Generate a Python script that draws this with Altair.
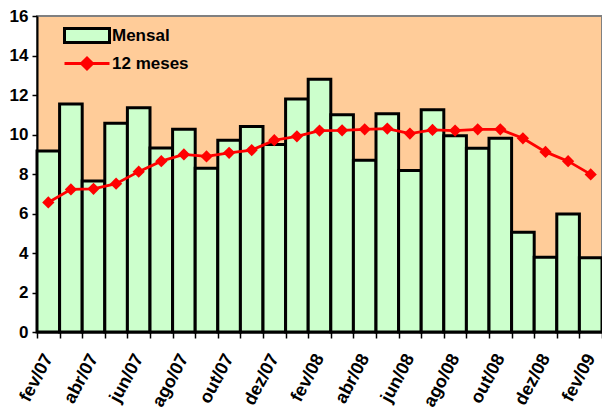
import altair as alt
import pandas as pd

months = ["fev/07", "mar/07", "abr/07", "mai/07", "jun/07", "jul/07", "ago/07", "set/07",
          "out/07", "nov/07", "dez/07", "jan/08", "fev/08", "mar/08", "abr/08", "mai/08",
          "jun/08", "jul/08", "ago/08", "set/08", "out/08", "nov/08", "dez/08", "jan/09", "fev/09"]
mensal = [9.16, 11.55, 7.65, 10.57, 11.35, 9.32, 10.26, 8.29, 9.71, 10.4, 9.49, 11.8, 12.8,
          11.0, 8.69, 11.05, 8.18, 11.25, 9.94, 9.31, 9.81, 5.05, 3.79, 5.97, 3.76]
doze_meses = [6.56, 7.22, 7.25, 7.51, 8.12, 8.65, 8.99, 8.89, 9.07, 9.21, 9.71, 9.91, 10.2,
              10.21, 10.26, 10.3, 10.05, 10.23, 10.2, 10.26, 10.26, 9.81, 9.12, 8.65, 7.98]
y_ticks = [0, 2, 4, 6, 8, 10, 12, 14, 16]
shown_months = ["fev", "abr", "jun", "ago", "out", "dez"]

df = pd.DataFrame({"mes": months, "mensal": mensal, "doze": doze_meses})

FONT = "Liberation Sans"

x_axis = alt.Axis(
    labelAngle=-62, tickBand="extent", labelFont=FONT, labelFontSize=18,
    labelFontWeight="bold", labelColor="black", domainColor="black", domainWidth=2,
    tickColor="black", tickWidth=1.5, tickSize=6, labelPadding=17, labelOverlap=False,
    labelExpr="indexof(" + str(shown_months) + ", slice(datum.label, 0, 3)) >= 0 ? datum.label : ''",
)
x_scale = alt.Scale(paddingInner=0, paddingOuter=0)
y_scale = alt.Scale(domain=[0, 16], nice=False)
y_axis = alt.Axis(
    values=y_ticks, tickCount=9, grid=False, labelFont=FONT, labelFontSize=17, labelFontWeight="bold",
    labelColor="black", domainColor="black", domainWidth=2, tickColor="black",
    tickWidth=1.5, tickSize=5, labelPadding=4, labelOverlap=False, labelFlush=False,
)


def xenc():
    return alt.X("mes:N", sort=months, title=None, scale=x_scale, axis=x_axis)


def yenc(field):
    return alt.Y(field, scale=y_scale, axis=y_axis, title=None)


bars = alt.Chart(df).transform_calculate(serie="'Mensal'").mark_bar(
    stroke="black", strokeWidth=3, fillOpacity=1
).encode(
    x=xenc(),
    y=yenc("mensal:Q"),
    fill=alt.Fill(
        "serie:N", scale=alt.Scale(domain=["Mensal"], range=["#CCFFCC"]),
        legend=alt.Legend(
            orient="none", legendX=26, legendY=-4.5, title=None, padding=0,
            symbolType="M-1,-0.31H1V0.31H-1Z", symbolSize=2025,
            symbolStrokeColor="black", symbolStrokeWidth=3, symbolFillColor="#CCFFCC",
            labelOffset=1,
        ),
    ),
)

line = alt.Chart(df).transform_calculate(serie2="'12 meses'").mark_line(strokeWidth=2.8).encode(
    x=xenc(),
    y=yenc("doze:Q"),
    stroke=alt.Stroke(
        "serie2:N", scale=alt.Scale(domain=["12 meses"], range=["#FF0000"]),
        legend=alt.Legend(
            orient="none", legendX=26, legendY=23.5, title=None, padding=0,
            symbolType="M-1,0H1M-0.25,0L0,-0.25L0.25,0L0,0.25Z", symbolSize=2025,
            symbolStrokeColor="#FF0000", symbolStrokeWidth=2.8, symbolFillColor="#FF0000",
            labelOffset=1,
        ),
    ),
)

points = alt.Chart(df).mark_point(shape="diamond", filled=True, size=150, color="#FF0000", opacity=1).encode(
    x=xenc(),
    y=yenc("doze:Q"),
)

chart = alt.layer(bars, line, points).resolve_scale(fill="independent", stroke="independent").properties(
    width=565, height=316,
    autosize=alt.AutoSizeParams(type="none"),
    padding={"left": 29, "top": 8, "right": 0, "bottom": 78},
).configure_view(
    fill="#FFCC99", stroke="#808080", strokeWidth=2
).configure_legend(
    labelFont=FONT, labelFontSize=17, labelFontWeight="bold", labelColor="black", labelLimit=300
)

chart.save("out.html", embed_options={"renderer": "svg", "actions": False})
